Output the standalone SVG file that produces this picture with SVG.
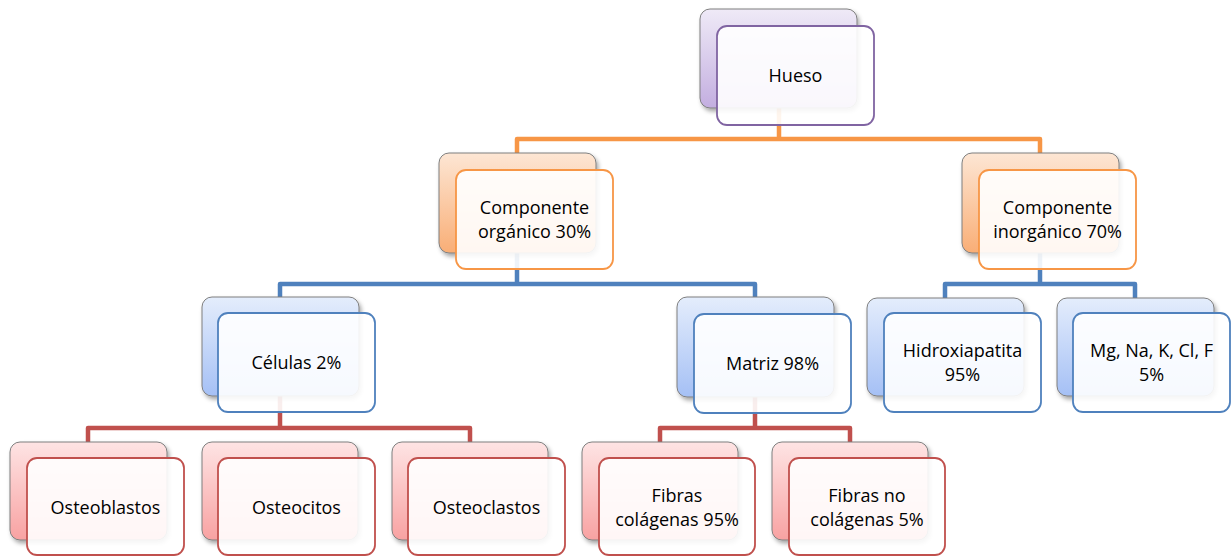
<svg xmlns="http://www.w3.org/2000/svg" width="1231" height="556" viewBox="0 0 1231 556">
<defs>
<linearGradient id="gP" x1="0" y1="0" x2="0" y2="1"><stop offset="0" stop-color="#efeaf7"/><stop offset="1" stop-color="#c3aee0"/></linearGradient>
<linearGradient id="gO" x1="0" y1="0" x2="0" y2="1"><stop offset="0" stop-color="#fde6d4"/><stop offset="1" stop-color="#f9ae76"/></linearGradient>
<linearGradient id="gB" x1="0" y1="0" x2="0" y2="1"><stop offset="0" stop-color="#e4edfc"/><stop offset="1" stop-color="#a5c0f5"/></linearGradient>
<linearGradient id="gR" x1="0" y1="0" x2="0" y2="1"><stop offset="0" stop-color="#fee4e4"/><stop offset="1" stop-color="#f8a2a2"/></linearGradient>
<filter id="sh" x="-10%" y="-10%" width="125%" height="130%"><feDropShadow dx="2" dy="3" stdDeviation="2" flood-color="#000" flood-opacity="0.35"/></filter>
</defs>
<style>
.back{stroke:#7f7f7f;stroke-width:1;filter:url(#sh)}
.front{fill:#ffffff;fill-opacity:0.9;stroke-width:1.8}
.p .back{fill:url(#gP)} .p .front{stroke:#8064a2}
.o .back{fill:url(#gO)} .o .front{stroke:#f79646}
.b .back{fill:url(#gB)} .b .front{stroke:#4f81bd}
.r .back{fill:url(#gR)} .r .front{stroke:#c0504d}
text{font-family:"Open Sans","Liberation Sans",sans-serif;font-size:18px;fill:#000;text-anchor:middle}
.conn path{fill:none;stroke-width:4.5;stroke-linejoin:round}
</style>
<g id="connectors" class="conn">
<path d="M779,108 V139 M517,153 V139 H1040 V153" stroke="#f79646"/>
<path d="M517,253 V284 M280,297 V284 H755 V297" stroke="#4f81bd"/>
<path d="M1040,253 V284 M945,298 V284 H1135 V298" stroke="#4f81bd"/>
<path d="M280,396 V428 M88,442 V428 H470 V442" stroke="#c0504d"/>
<path d="M755,397 V428 M660,442 V428 H850 V442" stroke="#c0504d"/>
</g>
<g id="hueso" class="p">
<rect class="back" x="700" y="9" width="157" height="99" rx="10"/>
<rect class="front" x="717" y="26" width="157" height="99" rx="10"/>
<text x="795.5" y="82">Hueso</text>
</g>
<g id="organico" class="o">
<rect class="back" x="439" y="153" width="157" height="100" rx="10"/>
<rect class="front" x="456" y="170" width="157" height="99" rx="10"/>
<text x="534.5" y="214">Componente</text>
<text x="534.5" y="237.5">orgánico 30%</text>
</g>
<g id="inorganico" class="o">
<rect class="back" x="962" y="153" width="157" height="100" rx="10"/>
<rect class="front" x="979" y="170" width="157" height="99" rx="10"/>
<text x="1057.5" y="214">Componente</text>
<text x="1057.5" y="237.5">inorgánico 70%</text>
</g>
<g id="celulas" class="b">
<rect class="back" x="202" y="297" width="157" height="99" rx="10"/>
<rect class="front" x="218" y="313" width="157" height="99" rx="10"/>
<text x="296.5" y="369">Células 2%</text>
</g>
<g id="matriz" class="b">
<rect class="back" x="677" y="297" width="157" height="100" rx="10"/>
<rect class="front" x="694" y="314" width="157" height="99" rx="10"/>
<text x="772.5" y="370">Matriz 98%</text>
</g>
<g id="hidroxiapatita" class="b">
<rect class="back" x="867" y="298" width="157" height="98" rx="10"/>
<rect class="front" x="884" y="313" width="157" height="99" rx="10"/>
<text x="962.5" y="357">Hidroxiapatita</text>
<text x="962.5" y="381">95%</text>
</g>
<g id="minerales" class="b">
<rect class="back" x="1057" y="298" width="157" height="98" rx="10"/>
<rect class="front" x="1073" y="313" width="157" height="99" rx="10"/>
<text x="1151.5" y="357">Mg, Na, K, Cl, F</text>
<text x="1151.5" y="381">5%</text>
</g>
<g id="osteoblastos" class="r">
<rect class="back" x="10" y="442" width="157" height="98" rx="10"/>
<rect class="front" x="27" y="458" width="157" height="97" rx="10"/>
<text x="105.5" y="514">Osteoblastos</text>
</g>
<g id="osteocitos" class="r">
<rect class="back" x="202" y="442" width="156" height="98" rx="10"/>
<rect class="front" x="218" y="458" width="157" height="97" rx="10"/>
<text x="296.5" y="514">Osteocitos</text>
</g>
<g id="osteoclastos" class="r">
<rect class="back" x="392" y="442" width="156" height="98" rx="10"/>
<rect class="front" x="408" y="458" width="157" height="97" rx="10"/>
<text x="486.5" y="514">Osteoclastos</text>
</g>
<g id="fibras-colagenas" class="r">
<rect class="back" x="582" y="442" width="156" height="98" rx="10"/>
<rect class="front" x="599" y="458" width="156" height="97" rx="10"/>
<text x="677" y="502">Fibras</text>
<text x="677" y="525.5">colágenas 95%</text>
</g>
<g id="fibras-no-colagenas" class="r">
<rect class="back" x="772" y="442" width="156" height="98" rx="10"/>
<rect class="front" x="789" y="458" width="156" height="97" rx="10"/>
<text x="867" y="502">Fibras no</text>
<text x="867" y="525.5">colágenas 5%</text>
</g>
</svg>
